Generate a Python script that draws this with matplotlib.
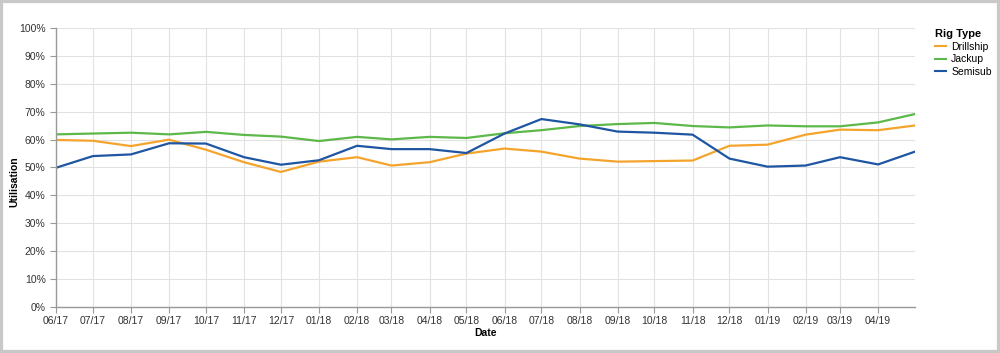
import pandas as pd
import matplotlib
matplotlib.use("Agg")
import matplotlib.pyplot as plt
import matplotlib.dates as mdates
from matplotlib.patches import Rectangle
from matplotlib.ticker import PercentFormatter, MultipleLocator

plt.rcParams["font.family"] = ["Liberation Sans", "DejaVu Sans"]

dates = pd.date_range("2017-06-01", "2019-05-01", freq="MS")

drillship = [59.9, 59.6, 57.7, 60.0, 56.4, 51.9, 48.4, 52.1, 53.7, 50.7, 51.9, 55.0,
             56.8, 55.7, 53.2, 52.1, 52.3, 52.5, 57.8, 58.2, 61.8, 63.6, 63.4, 65.1]
jackup = [61.9, 62.2, 62.5, 61.9, 62.8, 61.7, 61.1, 59.5, 61.0, 60.1, 61.0, 60.6,
          62.3, 63.4, 64.9, 65.6, 66.0, 64.9, 64.4, 65.1, 64.8, 64.8, 66.2, 69.2]
semisub = [49.9, 54.1, 54.7, 58.7, 58.6, 53.7, 51.0, 52.6, 57.8, 56.6, 56.6, 55.2,
           62.2, 67.4, 65.5, 62.9, 62.5, 61.8, 53.2, 50.3, 50.7, 53.7, 51.1, 55.7]

series = {"Drillship": drillship, "Jackup": jackup, "Semisub": semisub}
colors = {"Drillship": "#f4a42c", "Jackup": "#5cb949", "Semisub": "#1f56a3"}

fig = plt.figure(figsize=(10, 3.53), dpi=100)
ax = fig.add_axes([0.056, 0.1312, 0.859, 0.7886])

for name, vals in series.items():
    ax.plot(dates, vals, color=colors[name], lw=1.6, label=name)

ax.set_ylim(0, 100)
ax.set_xlim(dates[0], dates[-1])
ax.yaxis.set_major_locator(MultipleLocator(10))
ax.yaxis.set_major_formatter(PercentFormatter(decimals=0))
# last month is the edge of the domain, no tick label there
ax.set_xticks(dates[:-1])
ax.xaxis.set_major_formatter(mdates.DateFormatter("%m/%y"))

ax.grid(True, color="#e2e2e2", lw=0.8)
ax.set_axisbelow(True)
for side in ["top", "right"]:
    ax.spines[side].set_visible(False)
for side in ["left", "bottom"]:
    ax.spines[side].set_color("#999999")
    ax.spines[side].set_linewidth(1.0)
ax.tick_params(colors="#999999", labelcolor="#333333", labelsize=7.5, length=4, width=0.8)
ax.tick_params(axis="x", pad=3)

ax.set_xlabel("Date", fontsize=7.5, fontweight="bold", labelpad=1)
ax.set_ylabel("Utilisation", fontsize=7.5, fontweight="bold")
ax.yaxis.set_label_coords(-0.043, 0.45)

leg = ax.legend(title="Rig Type", loc="upper left", bbox_to_anchor=(1.019, 1.012),
                frameon=False, fontsize=7.5, handlelength=1.0, handletextpad=0.5,
                labelspacing=0.25, borderaxespad=0)
leg.get_title().set_fontweight("bold")
leg.get_title().set_fontsize(8)
leg._legend_box.align = "left"
for line in leg.get_lines():
    line.set_linewidth(1.5)

fig.patches.append(Rectangle((0, 0), 1, 1, transform=fig.transFigure, fill=False,
                             edgecolor="#c8c8c8", lw=4.5, zorder=10))

fig.savefig("out.png", dpi=100)
